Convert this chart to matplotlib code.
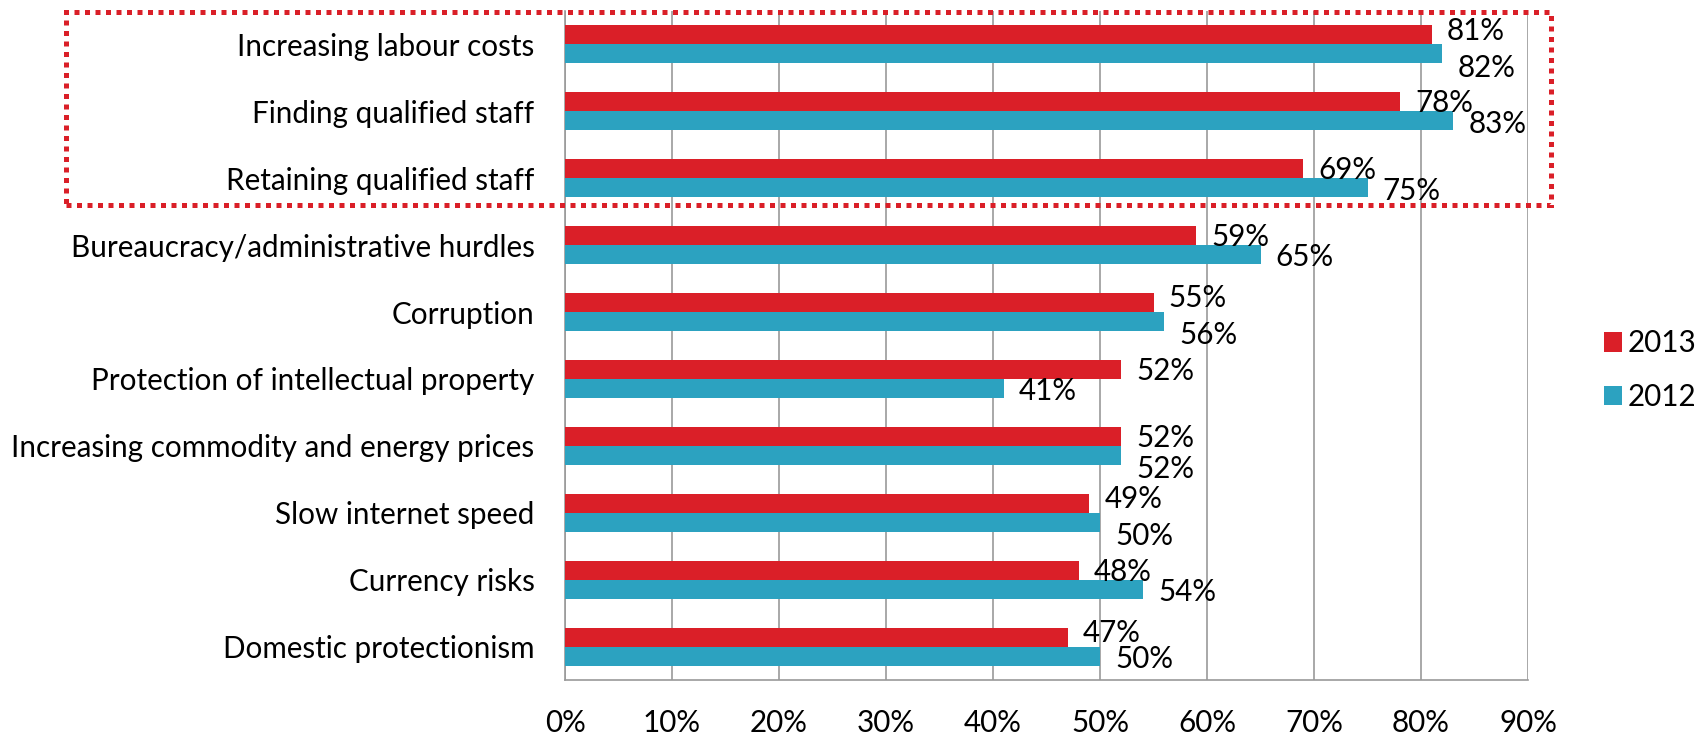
import numpy as np
import matplotlib.pyplot as plt
from matplotlib.patches import Rectangle

# --- DATA ---
categories = [
    "Increasing labour costs",
    "Finding qualified staff",
    "Retaining qualified staff",
    "Bureaucracy/administrative hurdles",
    "Corruption",
    "Protection of intellectual property",
    "Increasing commodity and energy prices",
    "Slow internet speed",
    "Currency risks",
    "Domestic protectionism",
]
values_2013 = [81, 78, 69, 59, 55, 52, 52, 49, 48, 47]
values_2012 = [82, 83, 75, 65, 56, 41, 52, 50, 54, 50]
x_ticks = [0, 10, 20, 30, 40, 50, 60, 70, 80, 90]

red = "#DA1F28"
blue = "#2CA2C0"
grid_col = "#9A9A9A"
fs = 21.3

plt.rcParams["font.family"] = ["Lato", "DejaVu Sans"]

# --- PLOT ---
fig = plt.figure(figsize=(17.02, 7.34), dpi=100)
ax = fig.add_axes([565 / 1702, 1 - 680 / 734, (1528 - 565) / 1702, (680 - 11) / 734])

y = np.arange(len(categories))
h = 0.284
ax.barh(y - h / 2, values_2013, height=h, color=red, label="2013", zorder=3)
ax.barh(y + h / 2, values_2012, height=h, color=blue, label="2012", zorder=3)

ax.set_xlim(0, 90)
ax.set_ylim(len(categories) - 0.5, -0.5)
ax.set_xticks(x_ticks)
ax.set_xticklabels([f"{t}%" for t in x_ticks], fontsize=fs)
ax.set_yticks(y)
ax.set_yticklabels(categories, fontsize=fs)
ax.tick_params(axis="y", length=0, pad=22)
ax.tick_params(axis="x", length=0, pad=21)

ax.grid(axis="x", color=grid_col, linewidth=1.2, zorder=0)
ax.set_axisbelow(True)
for s in ["top", "right"]:
    ax.spines[s].set_visible(False)
for s in ["left", "bottom"]:
    ax.spines[s].set_color(grid_col)
    ax.spines[s].set_linewidth(1.2)

# data labels (2012 label pushed down when it would collide with the 2013 one)
for i, (a, b) in enumerate(zip(values_2013, values_2012)):
    up = 3 if 0 < b - a < 4 else -1
    ax.annotate(f"{a}%", (a, i - h / 2), xytext=(11, up), textcoords="offset points",
                va="center", ha="left", fontsize=fs)
    nudge = -10 if abs(a - b) < 2 else -2
    ax.annotate(f"{b}%", (b, i + h / 2), xytext=(11, nudge), textcoords="offset points",
                va="center", ha="left", fontsize=fs)

fig.legend(loc="center left", bbox_to_anchor=(1577 / 1702, 1 - 370 / 734),
           frameon=False, fontsize=fs, handlelength=0.62, handleheight=0.62,
           handletextpad=0.2, labelspacing=0.85)

# dotted box around the top three
box = Rectangle((66 / 1702, 1 - 205 / 734), (1551 - 66) / 1702, (205 - 12) / 734,
                transform=fig.transFigure, fill=False, edgecolor=red,
                linewidth=3.6, linestyle=(0, (1, 1.1)), clip_on=False, zorder=10)
fig.patches.append(box)

fig.savefig("out.png", dpi=100)
